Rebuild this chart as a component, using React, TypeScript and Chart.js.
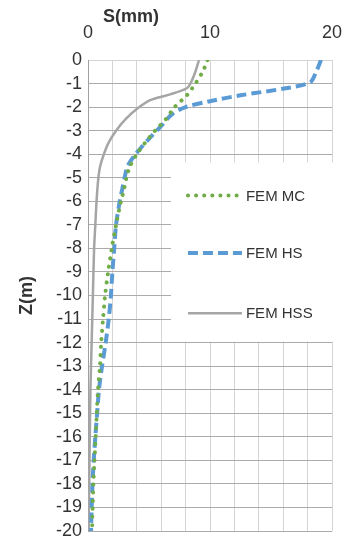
import React, { useEffect, useRef } from "react";
import { Chart, registerables } from "chart.js";

Chart.register(...registerables);

const depths = [0, -0.5, -1, -1.5, -2, -2.5, -3, -3.5, -4, -4.5, -5, -5.5, -6, -7, -8, -9, -10, -11, -12, -13, -14, -15, -16, -17, -18, -19, -20];
const mcValues = [9.8, 9.4, 8.8, 8.1, 7.1, 6.4, 5.5, 4.7, 4.0, 3.45, 3.15, 2.95, 2.7, 2.3, 1.95, 1.65, 1.4, 1.23, 1.08, 0.98, 0.82, 0.72, 0.63, 0.53, 0.44, 0.38, 0.33];

const hsDepths = [0, -0.5, -0.95, -1.2, -1.5, -1.75, -2, -2.3, -2.8, -3.4, -4, -4.5, -5, -5.5, -6, -7, -8, -9, -10, -11, -12, -13, -14, -15, -16, -17, -18, -19, -20];
const hsValues = [19.1, 18.7, 18.2, 16.2, 12.5, 10.0, 8.0, 6.9, 6.0, 4.9, 3.9, 3.25, 3.0, 2.8, 2.6, 2.3, 2.15, 2.0, 1.88, 1.7, 1.45, 1.15, 0.9, 0.75, 0.6, 0.47, 0.37, 0.3, 0.25];

const hssDepths = [0, -0.5, -1, -1.2, -1.45, -1.7, -2, -2.5, -3, -3.5, -4, -4.5, -5, -6, -7, -8, -10, -12, -14, -16, -18, -20];
const hssValues = [9.1, 8.8, 8.4, 8.1, 6.8, 5.1, 4.2, 3.1, 2.3, 1.7, 1.3, 1.0, 0.85, 0.7, 0.6, 0.5, 0.4, 0.3, 0.2, 0.15, 0.1, 0.05];

const seriesNames = ["FEM MC", "FEM HS", "FEM HSS"];
const xTitle = "S(mm)";
const yTitle = "Z(m)";

const FONT = "'Liberation Sans', Arial, sans-serif";

const toPoints = (xs: number[], ys: number[]) => xs.map((v, i) => ({ x: v, y: ys[i] }));

const styles = [
  { color: "#70AD47", width: 4, dash: [0.1, 8], cap: "round" as CanvasLineCap },
  { color: "#5B9BD5", width: 4, dash: [10, 5], cap: "butt" as CanvasLineCap },
  { color: "#A5A5A5", width: 2.5, dash: [] as number[], cap: "butt" as CanvasLineCap },
];

const overlayPlugin = {
  id: "overlay",
  afterDraw(chart: any) {
    const ctx = chart.ctx as CanvasRenderingContext2D;
    const ca = chart.chartArea;
    const xs = chart.scales.x;
    const ys = chart.scales.y;
    ctx.save();
    // legend box
    const bx = xs.getPixelForValue(6.8);
    const by = ys.getPixelForValue(-4.35);
    const bBottom = ys.getPixelForValue(-12) - 1;
    ctx.fillStyle = "#FFFFFF";
    ctx.fillRect(bx, by, ca.right + 2 - bx, bBottom - by);
    const itemY = [-5.75, -8.2, -10.75];
    seriesNames.forEach((name, i) => {
      const y = ys.getPixelForValue(itemY[i]);
      const st = styles[i];
      ctx.beginPath();
      ctx.strokeStyle = st.color;
      ctx.lineWidth = st.width;
      ctx.setLineDash(st.dash);
      ctx.lineCap = st.cap;
      ctx.moveTo(bx + 17, y);
      ctx.lineTo(bx + 71, y);
      ctx.stroke();
      ctx.setLineDash([]);
      ctx.lineCap = "butt";
      ctx.fillStyle = "#333333";
      ctx.font = `15px ${FONT}`;
      ctx.textAlign = "left";
      ctx.textBaseline = "middle";
      ctx.fillText(name, bx + 75, y + 1);
    });
    // axis titles
    ctx.fillStyle = "#333333";
    ctx.font = `bold 18px ${FONT}`;
    ctx.textAlign = "center";
    ctx.textBaseline = "middle";
    ctx.fillText(xTitle, ca.left + 43, 17);
    ctx.save();
    ctx.translate(27, (ca.top + ca.bottom) / 2);
    ctx.rotate(-Math.PI / 2);
    ctx.fillText(yTitle, 0, 0);
    ctx.restore();
    ctx.restore();
  },
};

export default function App() {
  const canvasRef = useRef<HTMLCanvasElement | null>(null);

  useEffect(() => {
    document.body.style.margin = "0";
    const canvas = canvasRef.current;
    if (!canvas) return;
    const datasets = [
      toPoints(mcValues, depths),
      toPoints(hsValues, hsDepths),
      toPoints(hssValues, hssDepths),
    ].map((pts, i) => ({
      label: seriesNames[i],
      data: pts,
      showLine: true,
      borderColor: styles[i].color,
      backgroundColor: styles[i].color,
      borderWidth: styles[i].width,
      borderDash: styles[i].dash,
      borderCapStyle: styles[i].cap,
      pointRadius: 0,
      tension: 0.3,
      fill: false,
    }));
    const chart = new Chart(canvas, {
      type: "scatter",
      data: { datasets },
      options: {
        animation: false,
        responsive: false,
        maintainAspectRatio: false,
        layout: { padding: 0 },
        plugins: { legend: { display: false }, tooltip: { enabled: false } },
        scales: {
          x: {
            type: "linear",
            position: "top",
            min: 0,
            max: 20,
            afterFit: (s: any) => {
              s.height = 60;
              s.paddingLeft = 0;
              s.paddingRight = 13;
            },
            ticks: {
              stepSize: 2,
              autoSkip: false,
              maxRotation: 0,
              padding: 16,
              color: "#333333",
              font: { family: FONT, size: 18 },
              callback: (v: any) => (Number(v) % 10 === 0 ? String(v) : ""),
            },
            grid: { color: "#D4D4D4", lineWidth: 1, drawTicks: false },
            border: { display: true, color: "#D4D4D4" },
          },
          y: {
            type: "linear",
            min: -20,
            max: 0,
            afterFit: (s: any) => {
              s.width = 88;
              s.paddingTop = 0;
              s.paddingBottom = 9;
            },
            ticks: {
              stepSize: 1,
              autoSkip: false,
              padding: 6,
              color: "#333333",
              font: { family: FONT, size: 18 },
            },
            grid: { color: "#ABABAB", lineWidth: 1, drawTicks: false },
            border: { display: true, color: "#A0A0A0" },
          },
        },
      },
      plugins: [overlayPlugin],
    } as any);
    return () => chart.destroy();
  }, []);

  return (
    <div style={{ width: 345, height: 540 }}>
      <canvas ref={canvasRef} width={345} height={540} style={{ display: "block" }} />
    </div>
  );
}
